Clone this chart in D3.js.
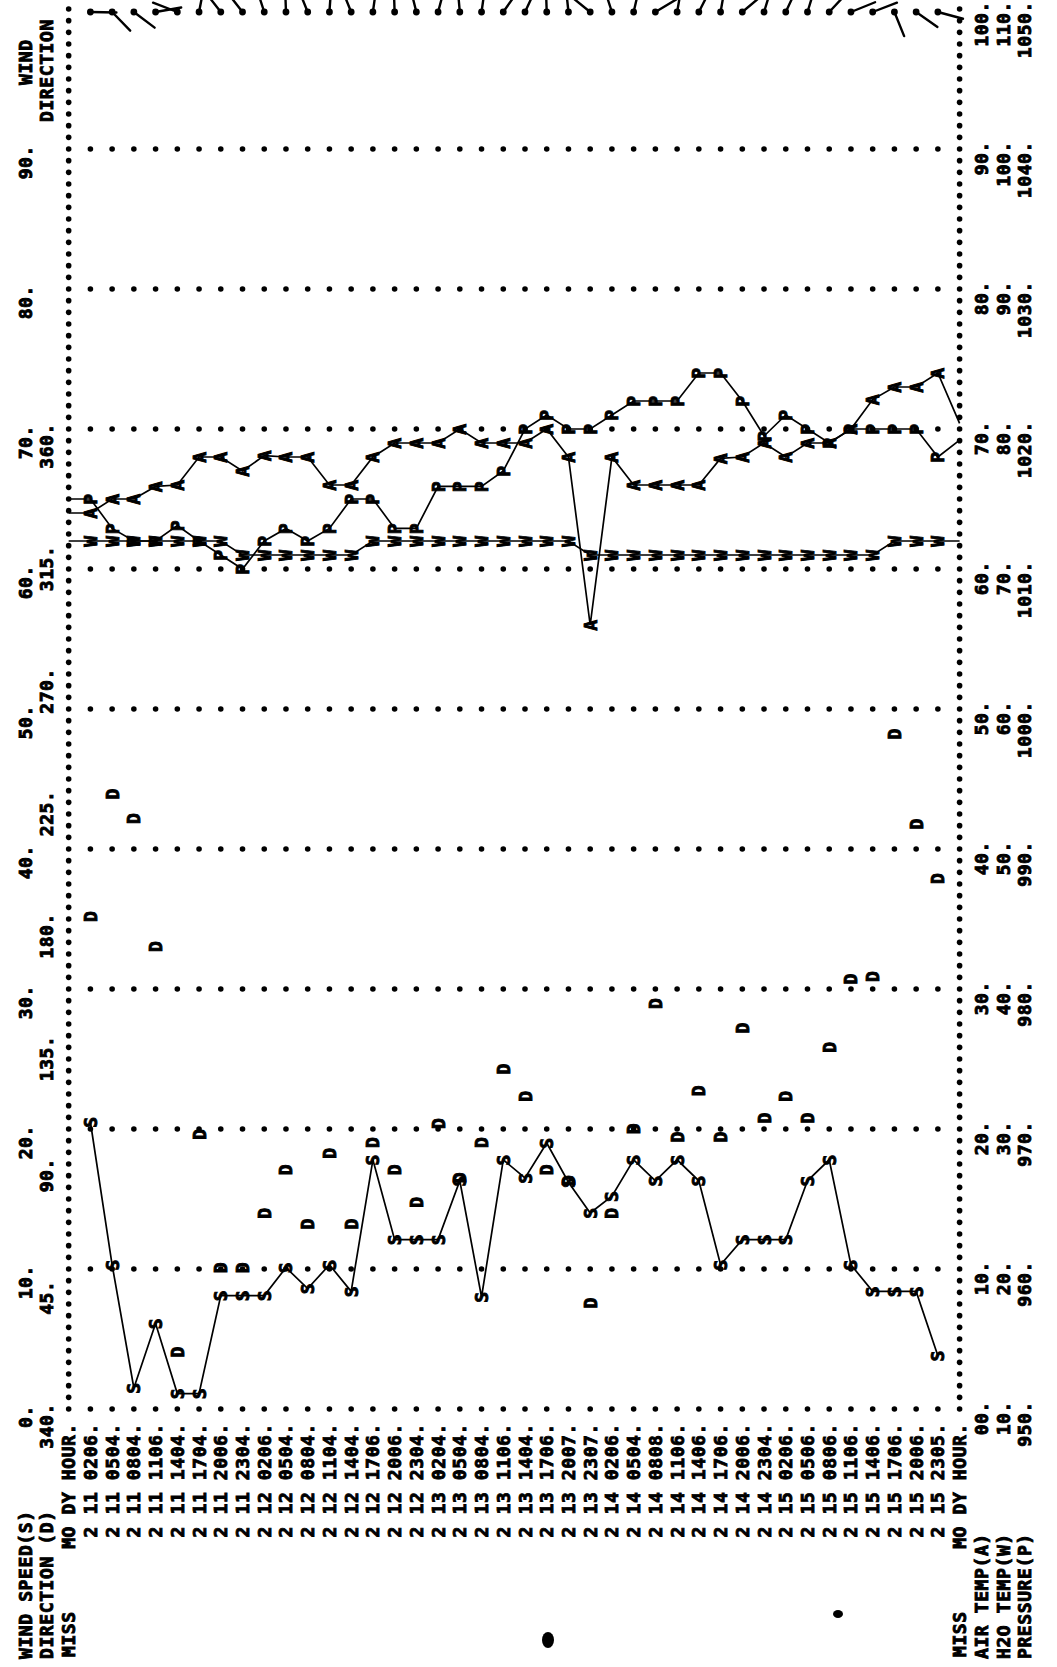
<!DOCTYPE html>
<html>
<head>
<meta charset="utf-8">
<title>Wind, temperature and pressure printout</title>
<script src="https://cdn.jsdelivr.net/npm/d3@7"></script>
<style>
  body { margin: 0; background: #fff; }
  text { font-family: "DejaVu Sans Mono", monospace; font-weight: bold; font-size: 18px; fill: #000;
         stroke: #000; stroke-width: 0.9px; letter-spacing: 0.6px; }
  .grid { fill: #000; }
  .series { fill: none; stroke: #000; stroke-width: 1.7; }
</style>
</head>
<body>
<svg id="chart"></svg>
<script>
// page size, the printout is turned a quarter turn on the page
var W = 1057, H = 1667;

// one printed line per observation
var months = [2,2,2,2,2,2,2,2, 2,2,2,2,2,2,2,2, 2,2,2,2,2,2,2,2, 2,2,2,2,2,2,2,2, 2,2,2,2,2,2,2,2];
var days = [11,11,11,11,11,11,11,11, 12,12,12,12,12,12,12,12, 13,13,13,13,13,13,13,13,
            14,14,14,14,14,14,14,14, 15,15,15,15,15,15,15,15];
var hours = ["0206","0504","0804","1106","1404","1704","2006","2304",
             "0206","0504","0804","1104","1404","1706","2006","2304",
             "0204","0504","0804","1106","1404","1706","2007","2307",
             "0206","0504","0808","1106","1406","1706","2006","2304",
             "0206","0506","0806","1106","1406","1706","2006","2305"];

// S : wind speed
var speed = [20.5,10.3,1.5,6.1,1.1,1.1,8.1,8.1,8.1,10.1,
             8.6,10.3,8.4,17.8,12.1,12.1,12.1,16.3,8.0,17.8,
             16.5,19.0,16.2,14.0,15.2,17.8,16.3,17.8,16.3,10.3,
             12.1,12.1,12.1,16.3,17.8,10.3,8.4,8.4,8.4,3.8];
// D : wind direction, degrees
var direction = [181,226,217,170,21,101,52,52,72,88,
                 68,94,68,98,88,76,105,85,98,125,
                 115,88,84,39,72,103,149,100,117,100,
                 140,107,115,107,133,158,159,248,215,195];
// A : air temperature
var airTemp = [64.0,65.0,65.0,65.9,66.0,68.0,68.0,67.0,68.1,68.0,
               68.0,66.0,66.0,68.0,69.0,69.0,69.0,70.0,69.0,69.0,
               69.0,70.0,68.0,56.0,68.0,66.0,66.0,66.0,66.0,67.9,
               68.0,69.0,68.0,69.0,69.0,70.0,72.1,73.0,73.0,74.0];
var airEnds = [64.0, 70.4];
// W : water temperature
var waterTemp = [72,72,72,72,72,72,72,71,71,71,
                 71,71,71,72,72,72,72,72,72,72,
                 72,72,72,71,71,71,71,71,71,71,
                 71,71,71,71,71,71,71,72,72,72];
var waterEnds = [72, 72];
// P : pressure
var pressure = [1015.0,1012.9,1012.0,1012.0,1013.1,1012.0,1011.0,1010.0,1012.0,1012.9,
                1012.0,1012.9,1015.0,1015.0,1012.9,1012.9,1015.9,1015.9,1015.9,1017.0,
                1020.0,1021.0,1020.0,1020.0,1021.0,1022.0,1022.0,1022.0,1024.0,1024.0,
                1022.0,1019.5,1021.0,1020.0,1019.0,1020.0,1020.0,1020.0,1020.0,1018.0];
var pressureEnds = [1015.0, 1019.2];

// axis labels
var speedTicks = [0,10,20,30,40,50,60,70,80,90];
var dirTicks = [0,45,90,135,180,225,270,315,360];
var dirTickLabels = ["340.","45.","90.","135.","180.","225.","270.","315.","360."];
var airTicks = [0,10,20,30,40,50,60,70,80,90,100];
var airTickLabels = ["00.","10.","20.","30.","40.","50.","60.","70.","80.","90.","100."];
var waterTicks = [10,20,30,40,50,60,70,80,90,100,110];
var pressureTicks = [950,960,970,980,990,1000,1010,1020,1030,1040,1050];

var svg = d3.select("#chart").attr("width", W).attr("height", H);
svg.append("rect").attr("width", W).attr("height", H).attr("fill", "#fff");

// specks of toner on the scan (page coordinates)
var specks = [[548, 1640, 6, 8], [838, 1614, 5, 4]];
svg.selectAll("ellipse.speck").data(specks).join("ellipse").attr("class", "speck")
  .attr("cx", d => d[0]).attr("cy", d => d[1]).attr("rx", d => d[2]).attr("ry", d => d[3]);

// landscape frame: x = value across the page height, y = printed line
var g = svg.append("g").attr("transform", "translate(0," + H + ") rotate(-90)");

var rowY = d3.scaleLinear().domain([0, 39]).range([90.4, 90.4 + 39 * 21.73]);
var val = d3.scaleLinear().domain([0, 100]).range([258, 1658]);
var airX = d3.scaleLinear().domain([0, 100]).range(val.range());
var waterX = d3.scaleLinear().domain([10, 110]).range(val.range());
var presX = d3.scaleLinear().domain([950, 1050]).range(val.range());
var dirX = d3.scaleLinear().domain([0, 360]).range([val(0), val(70)]);

var rows = d3.range(40);

// dotted border lines (header and footer lines)
var borderVals = d3.range(0, 100.001, 10 / 12);
[-1, 40].forEach(function (r) {
  g.append("g").selectAll("circle").data(borderVals).join("circle")
    .attr("class", "grid").attr("cx", d => val(d)).attr("cy", rowY(r)).attr("r", 2.8);
});

// dotted grid lines every 10 units
speedTicks.forEach(function (t) {
  g.append("g").selectAll("circle").data(rows).join("circle")
    .attr("class", "grid").attr("cx", val(t)).attr("cy", d => rowY(d)).attr("r", 2.8);
});

// wind arrows hanging from the top line
var barb = g.append("g");
barb.selectAll("circle").data(direction).join("circle")
  .attr("cx", val(100) - 3).attr("cy", (d, i) => rowY(i)).attr("r", 3.4);
barb.selectAll("line").data(direction).join("line")
  .attr("x1", val(100) - 3).attr("y1", (d, i) => rowY(i))
  .attr("x2", d => val(100) - 3 + 26 * Math.sin(d * Math.PI / 180))
  .attr("y2", (d, i) => rowY(i) - 26 * Math.cos(d * Math.PI / 180))
  .attr("stroke", "#000").attr("stroke-width", 2.4).attr("stroke-linecap", "round");

// series lines
function drawSeries(values, scale, ends) {
  var pts = values.map((v, i) => [scale(v), rowY(i)]);
  if (ends) {
    pts.unshift([scale(ends[0]), rowY(-1)]);
    pts.push([scale(ends[1]), rowY(40)]);
  }
  g.append("path").attr("class", "series").attr("d", d3.line()(pts));
}
drawSeries(speed, val, null);
drawSeries(airTemp, airX, airEnds);
drawSeries(waterTemp, waterX, waterEnds);
drawSeries(pressure, presX, pressureEnds);

// printed symbols
function drawMarks(values, scale, ch) {
  g.append("g").selectAll("text").data(values).join("text")
    .attr("x", d => scale(d)).attr("y", (d, i) => rowY(i))
    .attr("text-anchor", "middle").attr("dominant-baseline", "central")
    .text(ch);
}
drawMarks(waterTemp, waterX, "W");
drawMarks(pressure, presX, "P");
drawMarks(airTemp, airX, "A");
drawMarks(direction, dirX, "D");
drawMarks(speed, val, "S");

// row labels
g.append("g").selectAll("text").data(rows).join("text")
  .attr("x", 244).attr("y", d => rowY(d)).attr("text-anchor", "end").attr("dominant-baseline", "central")
  .text(d => months[d] + " " + days[d] + " " + hours[d] + ".");

// header lines
function line(r, x, anchor, txt) {
  g.append("text").attr("x", x).attr("y", rowY(r)).attr("text-anchor", anchor)
    .attr("dominant-baseline", "central").text(txt);
}
line(-3, 8, "start", "WIND SPEED(S)");
line(-2, 8, "start", "DIRECTION (D)");
line(-1, 10, "start", "MISS");
line(-1, 244, "end", "MO DY HOUR.");
line(-3, 1582, "start", "WIND");
line(-2, 1545, "start", "DIRECTION");
speedTicks.forEach(t => line(-3, val(t) + 4, "end", t + "."));
dirTicks.forEach((t, i) => line(-2, dirX(t) + 6, "end", dirTickLabels[i]));

// footer lines
line(40, 10, "start", "MISS");
line(40, 244, "end", "MO DY HOUR.");
line(41, 8, "start", "AIR TEMP(A)");
line(42, 8, "start", "H2O TEMP(W)");
line(43, 8, "start", "PRESSURE(P)");
airTicks.forEach((t, i) => line(41, airX(t) + 8, "end", airTickLabels[i]));
waterTicks.forEach(t => line(42, waterX(t) + 8, "end", t + "."));
pressureTicks.forEach(t => line(43, presX(t) + 8, "end", t + "."));
</script>
</body>
</html>
